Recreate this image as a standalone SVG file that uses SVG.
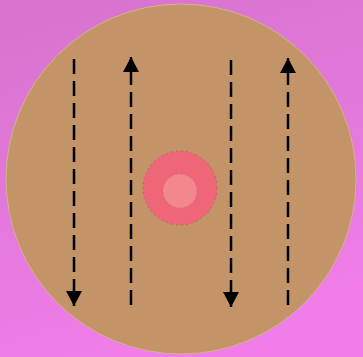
<svg xmlns="http://www.w3.org/2000/svg" width="363" height="357" viewBox="0 0 363 357">
<defs>
<linearGradient id="bg" x1="0" y1="0" x2="0.3" y2="1">
<stop offset="0" stop-color="#d573cd"/>
<stop offset="1" stop-color="#f07de9"/>
</linearGradient>
<marker id="ah" viewBox="0 0 15 16" refX="15" refY="8" markerWidth="15" markerHeight="16" markerUnits="userSpaceOnUse" orient="auto">
<path d="M0,0 L15,8 L0,16 Z" fill="#000"/>
</marker>
<style>
.flow{stroke:#000;stroke-width:2.5;stroke-dasharray:15 7;fill:none;marker-end:url(#ah)}
</style>
</defs>
<rect width="363" height="357" fill="url(#bg)"/>
<g id="disc">
<circle cx="181" cy="179" r="175" fill="#c39467" stroke="#d8b08a" stroke-width="1"/>
</g>
<g id="core">
<circle cx="180" cy="188" r="37" fill="#ee6677" stroke="#b0606a" stroke-width="0.8" stroke-dasharray="2 3"/>
<circle cx="180" cy="191" r="17" fill="#f2878e" stroke="#c07078" stroke-width="0.6" stroke-dasharray="2 3"/>
</g>
<g id="connectors">
<line class="flow" x1="74" y1="59" x2="74" y2="306"/>
<line class="flow" x1="131" y1="305" x2="131" y2="57"/>
<line class="flow" x1="231" y1="60" x2="231" y2="307"/>
<line class="flow" x1="288" y1="305" x2="288" y2="58"/>
</g>
</svg>
